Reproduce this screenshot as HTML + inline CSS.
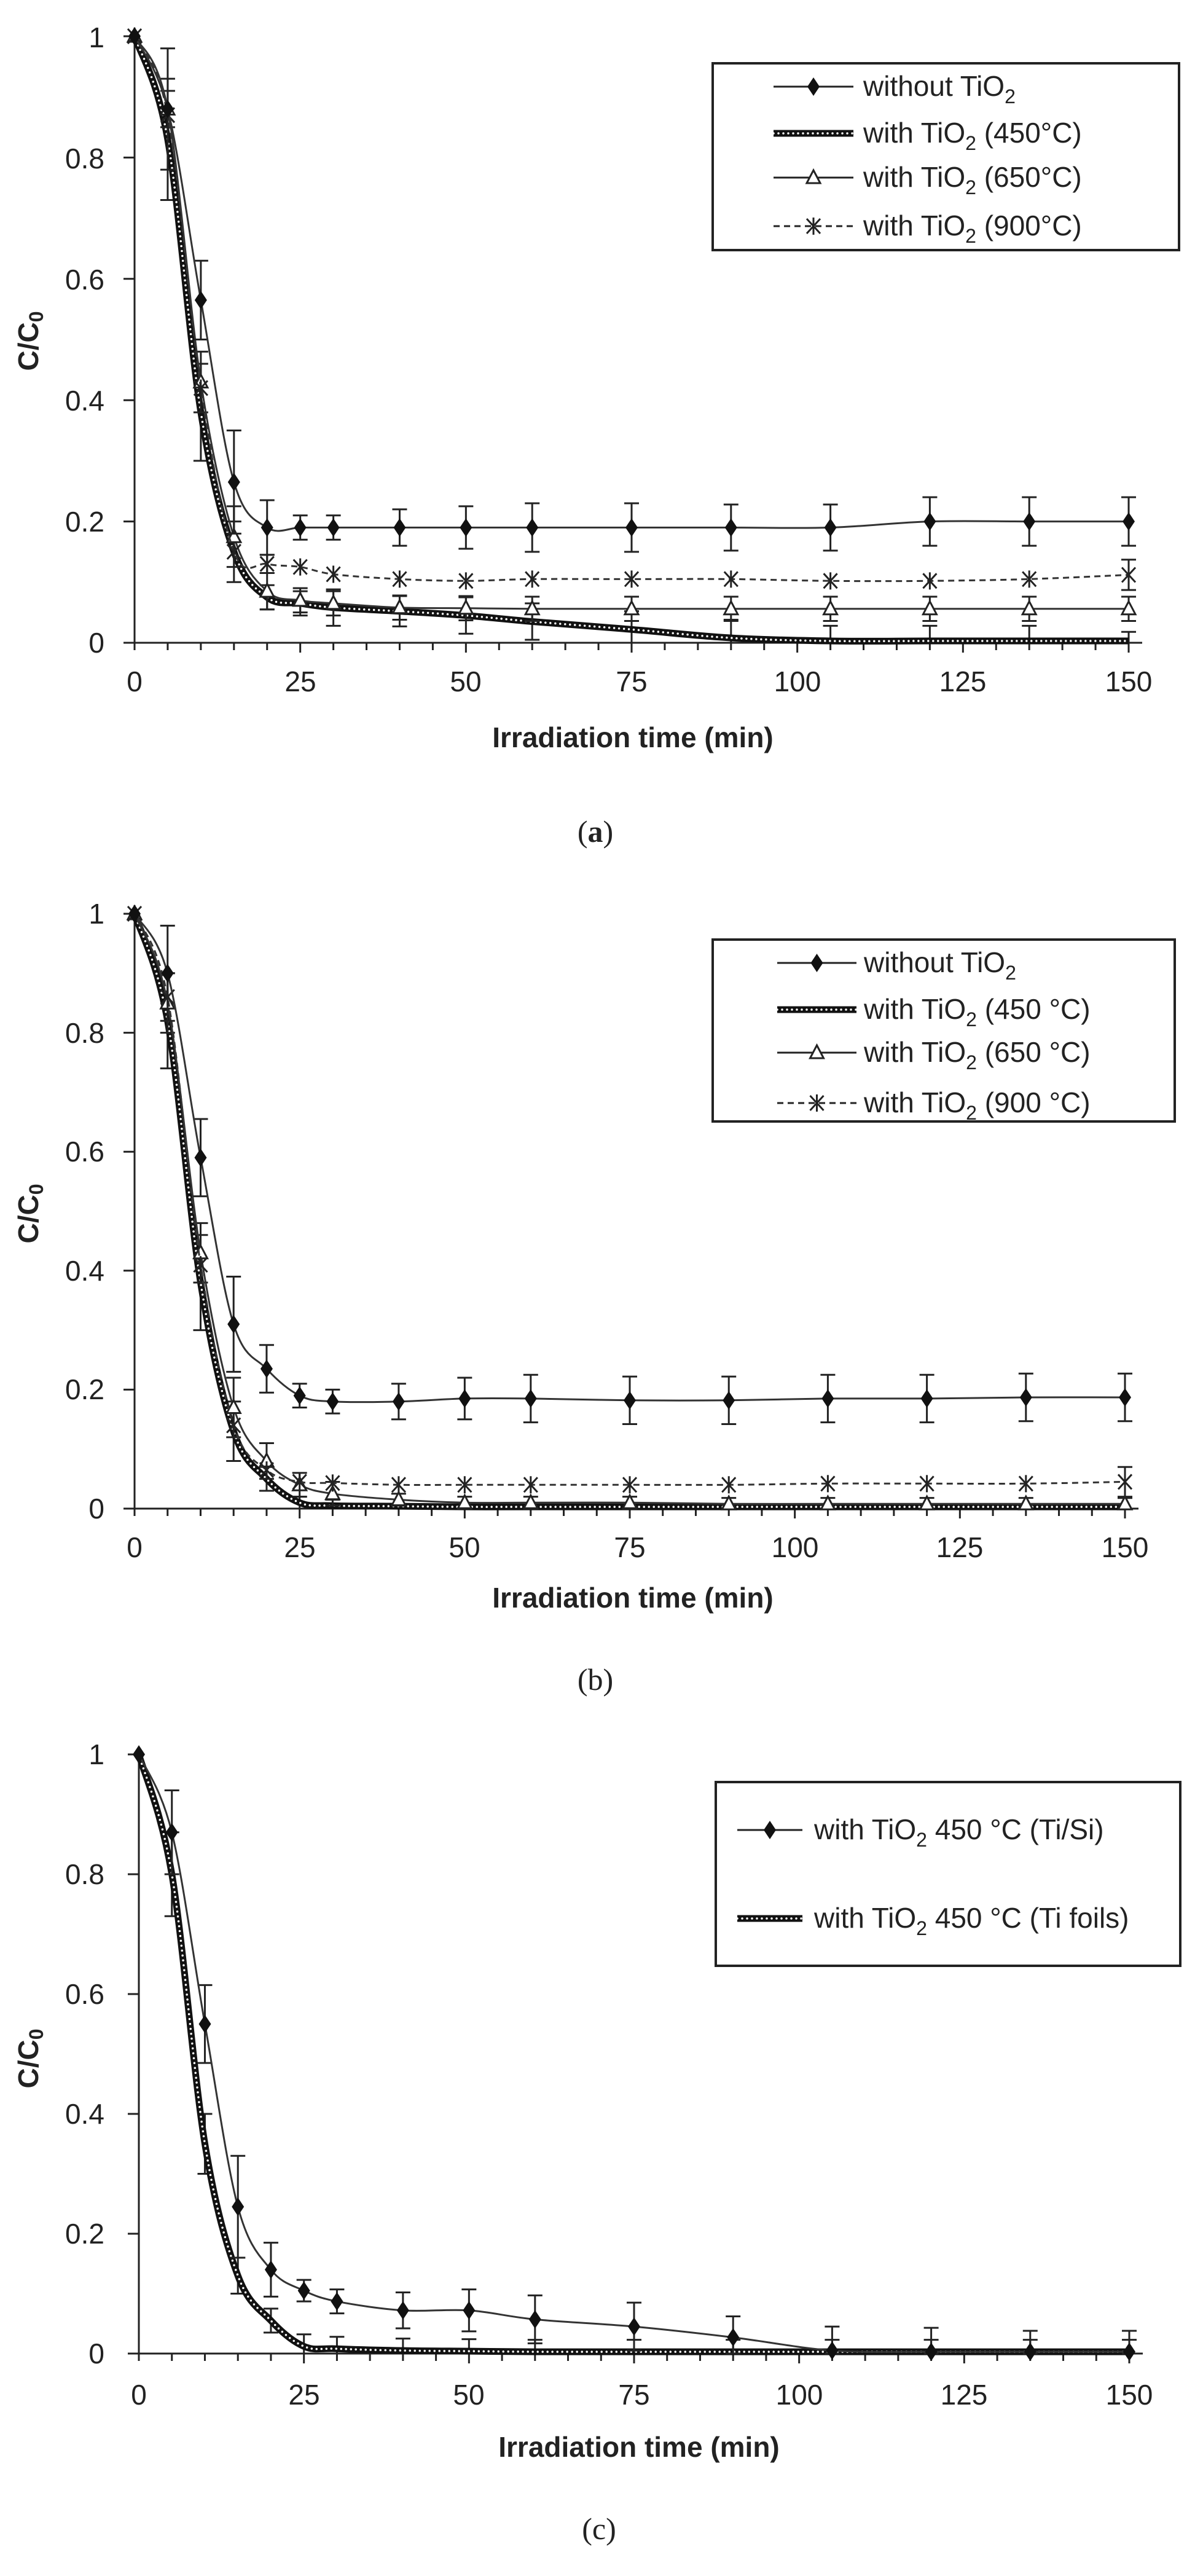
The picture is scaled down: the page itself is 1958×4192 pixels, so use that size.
<!DOCTYPE html>
<html><head><meta charset="utf-8">
<style>
html,body{margin:0;padding:0;background:#fff;}
svg{display:block;}
text{font-family:"Liberation Sans",Arial,sans-serif;fill:#222;}
.tk{font-size:46px;}
.ttl{font-size:46px;font-weight:bold;}
.lg{font-size:46px;}
.cap{font-family:"Liberation Serif",serif;font-size:50px;}
</style></head>
<body>
<svg id="s" width="1958" height="4192" viewBox="0 0 1958 4192" xmlns="http://www.w3.org/2000/svg">
<rect width="1958" height="4192" fill="#fff"/>
<g id="plots"></g>

<!-- Panel a texts -->
<g class="tk" text-anchor="end">
<text x="170" y="1062">0</text><text x="170" y="865">0.2</text><text x="170" y="668">0.4</text><text x="170" y="471">0.6</text><text x="170" y="274">0.8</text><text x="170" y="77">1</text>
</g>
<g class="tk" text-anchor="middle">
<text x="219" y="1125">0</text><text x="489" y="1125">25</text><text x="758" y="1125">50</text><text x="1028" y="1125">75</text><text x="1298" y="1125">100</text><text x="1567" y="1125">125</text><text x="1837" y="1125">150</text>
</g>
<text class="ttl" x="1030" y="1216" text-anchor="middle">Irradiation time (min)</text>
<text class="ttl" transform="translate(62,555) rotate(-90)" text-anchor="middle">C/C<tspan font-size="32" dy="8">0</tspan></text>
<text class="cap" x="969" y="1370" text-anchor="middle">(<tspan font-weight="bold">a</tspan>)</text>
<rect x="1160" y="103" width="759" height="304" fill="none" stroke="#222" stroke-width="4"/>
<g class="lg">
<text x="1405" y="156">without TiO<tspan font-size="32" dy="12">2</tspan></text>
<text x="1405" y="232">with TiO<tspan font-size="32" dy="12">2</tspan><tspan dy="-12">   (450°C)</tspan></text>
<text x="1405" y="304">with TiO<tspan font-size="32" dy="12">2</tspan><tspan dy="-12"> (650°C)</tspan></text>
<text x="1405" y="383">with TiO<tspan font-size="32" dy="12">2</tspan><tspan dy="-12"> (900°C)</tspan></text>
</g>

<!-- Panel b texts -->
<g class="tk" text-anchor="end">
<text x="170" y="2471">0</text><text x="170" y="2277">0.2</text><text x="170" y="2084">0.4</text><text x="170" y="1890">0.6</text><text x="170" y="1697">0.8</text><text x="170" y="1503">1</text>
</g>
<g class="tk" text-anchor="middle">
<text x="219" y="2534">0</text><text x="488" y="2534">25</text><text x="756" y="2534">50</text><text x="1025" y="2534">75</text><text x="1294" y="2534">100</text><text x="1562" y="2534">125</text><text x="1831" y="2534">150</text>
</g>
<text class="ttl" x="1030" y="2616" text-anchor="middle">Irradiation time (min)</text>
<text class="ttl" transform="translate(62,1975) rotate(-90)" text-anchor="middle">C/C<tspan font-size="32" dy="8">0</tspan></text>
<text class="cap" x="969" y="2750" text-anchor="middle">(b)</text>
<rect x="1160" y="1529" width="752" height="296" fill="none" stroke="#222" stroke-width="4"/>
<g class="lg">
<text x="1406" y="1582">without TiO<tspan font-size="32" dy="12">2</tspan></text>
<text x="1406" y="1658">with TiO<tspan font-size="32" dy="12">2</tspan><tspan dy="-12"> (450 °C)</tspan></text>
<text x="1406" y="1728">with TiO<tspan font-size="32" dy="12">2</tspan><tspan dy="-12"> (650 °C)</tspan></text>
<text x="1406" y="1810">with TiO<tspan font-size="32" dy="12">2</tspan><tspan dy="-12"> (900 °C)</tspan></text>
</g>

<!-- Panel c texts -->
<g class="tk" text-anchor="end">
<text x="170" y="3846">0</text><text x="170" y="3651">0.2</text><text x="170" y="3456">0.4</text><text x="170" y="3261">0.6</text><text x="170" y="3066">0.8</text><text x="170" y="2871">1</text>
</g>
<g class="tk" text-anchor="middle">
<text x="226" y="3913">0</text><text x="495" y="3913">25</text><text x="763" y="3913">50</text><text x="1032" y="3913">75</text><text x="1301" y="3913">100</text><text x="1569" y="3913">125</text><text x="1838" y="3913">150</text>
</g>
<text class="ttl" x="1040" y="3998" text-anchor="middle">Irradiation time (min)</text>
<text class="ttl" transform="translate(62,3350) rotate(-90)" text-anchor="middle">C/C<tspan font-size="32" dy="8">0</tspan></text>
<text class="cap" x="975" y="4132" text-anchor="middle">(c)</text>
<rect x="1165" y="2900" width="756" height="299" fill="none" stroke="#222" stroke-width="4"/>
<g class="lg">
<text x="1325" y="2993">with TiO<tspan font-size="32" dy="12">2</tspan><tspan dy="-12"> 450 °C (Ti/Si)</tspan></text>
<text x="1325" y="3137">with TiO<tspan font-size="32" dy="12">2</tspan><tspan dy="-12"> 450 °C (Ti foils)</tspan></text>
</g>
</svg>
<script>
(function(){
var NS="http://www.w3.org/2000/svg",G=document.getElementById("plots");
function el(t,a){var e=document.createElementNS(NS,t);for(var k in a)e.setAttribute(k,a[k]);G.appendChild(e);return e;}
var T=[0,5,10,15,20,25,30,40,50,60,75,90,105,120,135,150];
function path(pts){var d="M"+pts[0][0]+","+pts[0][1];for(var i=0;i<pts.length-1;i++){var p0=pts[i-1]||pts[i],p1=pts[i],p2=pts[i+1],p3=pts[i+2]||p2;
var c1x=p1[0]+(p2[0]-p0[0])/6,c1y=p1[1]+(p2[1]-p0[1])/6,c2x=p2[0]-(p3[0]-p1[0])/6,c2y=p2[1]-(p3[1]-p1[1])/6;
d+=" C"+c1x.toFixed(1)+","+c1y.toFixed(1)+" "+c2x.toFixed(1)+","+c2y.toFixed(1)+" "+p2[0].toFixed(1)+","+p2[1].toFixed(1);}return d;}
function diamond(x,y){el("path",{d:"M"+x+","+(y-15)+" L"+(x+10)+","+y+" L"+x+","+(y+15)+" L"+(x-10)+","+y+"Z",fill:"#111"});}
function tri(x,y){el("path",{d:"M"+x+","+(y-12)+" L"+(x+11)+","+(y+9)+" L"+(x-11)+","+(y+9)+"Z",fill:"#fff",stroke:"#222","stroke-width":3});}
function star(x,y){el("path",{d:"M"+(x-11)+","+(y-12)+" L"+(x+11)+","+(y+12)+" M"+(x+11)+","+(y-12)+" L"+(x-11)+","+(y+12)+" M"+x+","+(y-14)+" L"+x+","+(y+14),stroke:"#222","stroke-width":3,fill:"none"});}
function err(x,y1,y2){el("path",{d:"M"+x+","+y1+" L"+x+","+y2+" M"+(x-12)+","+y1+" L"+(x+12)+","+y1+" M"+(x-12)+","+y2+" L"+(x+12)+","+y2,stroke:"#222","stroke-width":3,fill:"none"});}
function axes(P){var X=function(t){return P.x0+(P.x150-P.x0)*t/150},Y=function(v){return P.y0-(P.y0-P.y1)*v};
el("line",{x1:P.x0,y1:P.y1-5,x2:P.x0,y2:P.y0+12,stroke:"#222","stroke-width":3});
el("line",{x1:P.x0-18,y1:P.y0,x2:P.x150+22,y2:P.y0,stroke:"#222","stroke-width":3});
for(var v=0.2;v<1.01;v+=0.2)el("line",{x1:P.x0-18,y1:Y(v),x2:P.x0,y2:Y(v),stroke:"#222","stroke-width":3});
for(var t=5;t<=150;t+=5)el("line",{x1:X(t),y1:P.y0,x2:X(t),y2:P.y0+(t%25?12:16),stroke:"#222","stroke-width":3});
return [X,Y];}
function series(P,XY,vals,opt){var X=XY[0],Y=XY[1];var pts=T.map(function(t,i){return [X(t),Y(vals[i])]});
if(opt.err)T.forEach(function(t,i){var e=opt.err[i];if(e)err(X(t),Y(vals[i]+e),Y(Math.max(0,vals[i]-e)));});
if(opt.kind=="dot"){el("path",{d:path(pts),stroke:"#111","stroke-width":11,fill:"none"});
el("path",{d:path(pts),stroke:"#fff","stroke-width":3.5,fill:"none","stroke-dasharray":"0 8","stroke-linecap":"round"});}
else el("path",{d:path(pts),stroke:"#333","stroke-width":3,fill:"none","stroke-dasharray":opt.dash||"none"});
pts.forEach(function(p){if(opt.m=="d")diamond(p[0],p[1]);else if(opt.m=="t")tri(p[0],p[1]);else if(opt.m=="s")star(p[0],p[1]);});}
function legline(x1,x2,y,kind,m){if(kind=="dot"){el("path",{d:"M"+x1+","+y+" L"+x2+","+y,stroke:"#111","stroke-width":11});el("path",{d:"M"+x1+","+y+" L"+x2+","+y,stroke:"#fff","stroke-width":3.5,"stroke-dasharray":"0 8","stroke-linecap":"round"});}
else el("path",{d:"M"+x1+","+y+" L"+x2+","+y,stroke:"#222","stroke-width":3,"stroke-dasharray":kind=="dash"?"10 7":"none"});
var xm=(x1+x2)/2;if(m=="d")diamond(xm,y);if(m=="t")tri(xm,y);if(m=="s")star(xm,y);}
var E1=[0,.1,.065,.085,.045,.02,.02,.03,.035,.04,.04,.038,.038,.04,.04,.04];
var Es=[0,.03,.05,.05,.03,.02,.02,.02,.02,.02,.02,.02,.02,.02,.02,.02];
// a
var A={x0:219,x150:1837,y0:1046,y1:59},xa=axes(A);
series(A,xa,[1,.83,.38,.15,.075,.065,.058,.052,.045,.035,.022,.008,.003,.003,.003,.003],{kind:"dot",err:[0,.1,.08,.05,.02,.02,.03,.025,.03,.03,.03,.03,.025,.025,.025,.015]});
series(A,xa,[1,.88,.43,.175,.085,.07,.065,.058,.057,.056,.056,.056,.056,.056,.056,.056],{m:"t",err:Es});
series(A,xa,[1,.87,.42,.15,.13,.125,.113,.105,.102,.105,.105,.105,.102,.102,.105,.112],{m:"s",dash:"10 7",err:[0,0,0,0,.015,0,0,0,0,0,0,0,0,0,0,.025]});
series(A,xa,[1,.88,.565,.265,.19,.19,.19,.19,.19,.19,.19,.19,.19,.2,.2,.2],{m:"d",err:E1});
legline(1259,1389,141,"solid","d");legline(1259,1389,217,"dot");legline(1259,1389,289,"solid","t");legline(1259,1389,368,"dash","s");
// b
var B={x0:219,x150:1831,y0:2455,y1:1487},xb=axes(B);
series(B,xb,[1,.82,.38,.13,.05,.01,.005,.004,.003,.003,.003,.003,.003,.003,.003,.003],{kind:"dot",err:[0,.08,.08,.05,.02,.01,.01,0,0,0,0,0,0,0,0,.015]});
series(B,xb,[1,.85,.43,.17,.08,.04,.025,.015,.01,.01,.01,.008,.008,.008,.008,.008],{m:"t",err:[0,.05,.05,.05,.03,.02,.02,.01,.01,.01,.01,.01,.01,.01,.01,.01]});
series(B,xb,[1,.86,.41,.14,.065,.045,.043,.04,.04,.04,.04,.04,.042,.042,.042,.045],{m:"s",dash:"10 7",err:[0,0,0,0,0,0,0,0,0,0,0,0,0,0,0,.025]});
series(B,xb,[1,.9,.59,.31,.235,.19,.18,.18,.185,.185,.182,.182,.185,.185,.187,.187],{m:"d",err:[0,.08,.065,.08,.04,.02,.02,.03,.035,.04,.04,.04,.04,.04,.04,.04]});
legline(1265,1394,1567,"solid","d");legline(1265,1394,1643,"dot");legline(1265,1394,1713,"solid","t");legline(1265,1394,1795,"dash","s");
// c
var C={x0:226,x150:1838,y0:3830,y1:2855},xc=axes(C);
series(C,xc,[1,.8,.35,.13,.055,.012,.008,.005,.004,.003,.003,.003,.003,.003,.003,.003],{kind:"dot",err:[0,.07,.05,.03,.02,.02,.02,.02,.02,.02,.02,.02,.02,.02,.02,.02]});
series(C,xc,[1,.87,.55,.245,.14,.105,.087,.072,.072,.057,.045,.027,.005,.003,.003,.003],{m:"d",err:[0,.07,.065,.085,.045,.018,.02,.03,.035,.04,.04,.035,.04,.04,.035,.035]});
legline(1200,1306,2978,"solid","d");legline(1200,1306,3122,"dot");
})();
</script>
</body></html>
